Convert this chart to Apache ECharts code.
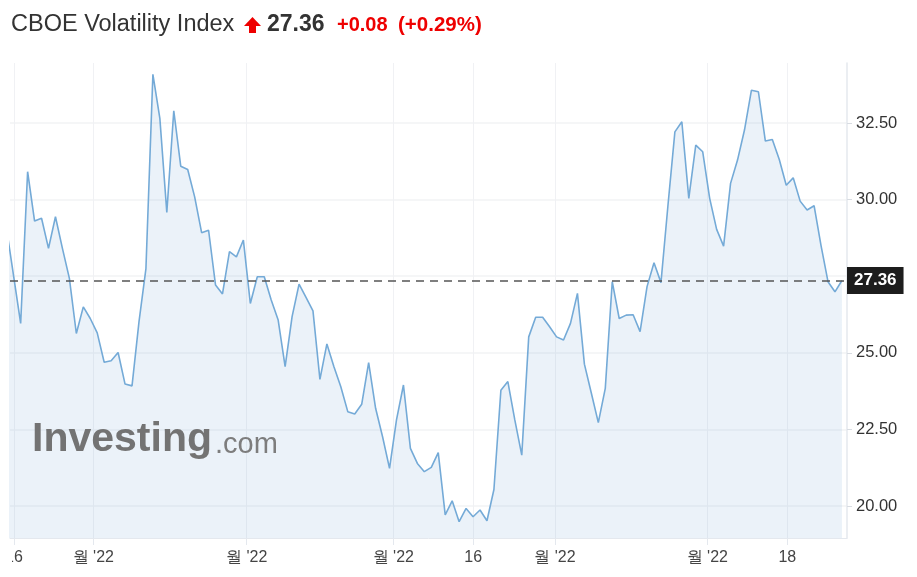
<!DOCTYPE html>
<html>
<head>
<meta charset="utf-8">
<script src="https://cdn.jsdelivr.net/npm/echarts@6/dist/echarts.min.js"></script>
<style>
  html, body { margin: 0; padding: 0; background: #fff; }
  #c { width: 917px; height: 577px; }
</style>
</head>
<body>
<div id="c"></div>
<script>
// ---- data (daily closes, index = trading day) ----
const titleName = 'CBOE Volatility Index';
const lastPrice = 27.36;
const changeText = '+0.08';
const changePctText = '(+0.29%)';

const vix = [
  29.00, 27.49, 25.96, 30.91, 29.30, 29.39, 28.41, 29.44, 28.41, 27.43,
  25.63, 26.50, 26.12, 25.65, 24.69, 24.74, 25.01, 23.98, 23.92, 26.01,
  27.75, 34.09, 32.65, 29.58, 32.90, 31.09, 30.98, 30.09, 28.92, 29.00,
  27.21, 26.92, 28.30, 28.13, 28.68, 26.61, 27.48, 27.48, 26.72, 26.07,
  24.55, 26.18, 27.24, 26.81, 26.37, 24.13, 25.29, 24.55, 23.89, 23.08,
  23.00, 23.32, 24.68, 23.19, 22.26, 21.23, 22.81, 23.95, 21.88, 21.39,
  21.12, 21.26, 21.74, 19.71, 20.17, 19.49, 19.92, 19.65, 19.87, 19.52,
  20.54, 23.78, 24.06, 22.81, 21.66, 25.52, 26.16, 26.16, 25.85, 25.52,
  25.42, 25.96, 26.94, 24.63, 23.68, 22.72, 23.84, 27.32, 26.12, 26.23,
  26.24, 25.69, 27.16, 27.94, 27.29, 29.80, 32.21, 32.54, 30.04, 31.78,
  31.56, 30.04, 29.03, 28.48, 30.53, 31.29, 32.27, 33.57, 33.52, 31.91,
  31.96, 31.31, 30.47, 30.71, 29.95, 29.66, 29.80, 28.50, 27.32, 26.99,
  27.36
];

// x-axis tick positions (in trading-day index units) and their labels
const xTickPositions = [1.04, 12.44, 34.48, 55.54, 67.03, 78.77, 100.66, 112.15];
const xTickLabels = ['16', "월 '22", "월 '22", "월 '22", '16', "월 '22", "월 '22", '18'];

// y-axis ticks / labels
const yTickValues = [20, 22.5, 25, 27.5, 30, 32.5];
const yLabelValues = [20, 22.5, 25, 30, 32.5];

// ---- chart ----
const FONT = "'Liberation Sans', Arial, Helvetica, sans-serif";
const chart = echarts.init(document.getElementById('c'), null, { renderer: 'canvas' });

const seriesData = vix.map((v, i) => [i, v]);

function xLabelFor(val) {
  let best = 0, bd = Infinity;
  for (let i = 0; i < xTickPositions.length; i++) {
    const d = Math.abs(xTickPositions[i] - val);
    if (d < bd) { bd = d; best = i; }
  }
  return xTickLabels[best];
}

const option = {
  animation: false,
  backgroundColor: '#ffffff',
  textStyle: { fontFamily: FONT },
  grid: { left: 10, right: 70, top: 63, bottom: 39, outerBoundsMode: 'none', containLabel: false },
  xAxis: {
    type: 'value',
    min: 0.468,
    max: 120.73,
    axisLine: { show: true, lineStyle: { color: '#e4e8ee', width: 1 } },
    axisTick: { show: true, customValues: xTickPositions, length: 7, lineStyle: { color: '#e4e8ee' } },
    axisLabel: {
      show: true,
      customValues: xTickPositions,
      formatter: (v) => xLabelFor(v),
      color: '#444',
      fontSize: 16,
      fontFamily: FONT,
      margin: 12
    },
    splitLine: { show: true, lineStyle: { color: '#f0f1f4', width: 1 } }
  },
  yAxis: {
    type: 'value',
    position: 'right',
    min: 18.956,
    max: 34.458,
    scale: true,
    axisLine: { show: true, lineStyle: { color: '#e4e8ee', width: 1.5 } },
    axisTick: { show: true, customValues: yTickValues, length: 5, lineStyle: { color: '#d8dce2' } },
    axisLabel: {
      show: true,
      customValues: yLabelValues,
      formatter: (v) => v.toFixed(2),
      color: '#333',
      fontSize: 16.5,
      fontFamily: FONT,
      margin: 9
    },
    splitLine: { show: true, lineStyle: { color: '#f2f3f5', width: 1.5 } }
  },
  series: [{
    type: 'line',
    data: seriesData,
    symbol: 'none',
    showSymbol: false,
    clip: true,
    lineStyle: { color: '#74aad7', width: 1.6 },
    areaStyle: { color: 'rgba(116,166,214,0.2)', origin: 'start' },
    markLine: {
      silent: true,
      symbol: ['none', 'none'],
      lineStyle: { color: '#555', width: 1.6, type: [8, 6] },
      label: {
        show: true,
        position: 'end',
        formatter: () => lastPrice.toFixed(2),
        color: '#fff',
        backgroundColor: '#1d1d1d',
        fontSize: 17,
        fontWeight: 'bold',
        fontFamily: FONT,
        padding: [5, 7, 5, 7],
        distance: 0
      },
      data: [{ yAxis: lastPrice }]
    }
  }],
  graphic: [
    // title
    { type: 'text', left: 11, top: 13, style: { text: titleName, font: "23.5px " + FONT, fill: '#333' } },
    // red up arrow
    { type: 'polygon', shape: { points: [[244, 26], [252.5, 17], [261, 26]] }, style: { fill: '#ee0000' } },
    { type: 'rect', shape: { x: 249, y: 25, width: 7, height: 8 }, style: { fill: '#ee0000' } },
    { type: 'text', left: 267, top: 13, style: { text: lastPrice.toFixed(2), font: "bold 23px " + FONT, fill: '#333' } },
    { type: 'text', left: 337, top: 15, style: { text: changeText, font: "bold 20px " + FONT, fill: '#ee0000' } },
    { type: 'text', left: 398, top: 15, style: { text: changePctText, font: "bold 20.5px " + FONT, fill: '#ee0000' } },
    // watermark
    { type: 'text', left: 32, top: 419, z: 50, style: { text: 'Investing', font: "bold 41px " + FONT, fill: '#737373' } },
    { type: 'text', left: 215, top: 430, z: 50, style: { text: '.com', font: "29px " + FONT, fill: '#7d7d7d' } },
    // left clip of axis labels
    { type: 'rect', z: 60, shape: { x: 0, y: 543, width: 12, height: 34 }, style: { fill: '#fff' } }
  ]
};
chart.setOption(option);
</script>
</body>
</html>
